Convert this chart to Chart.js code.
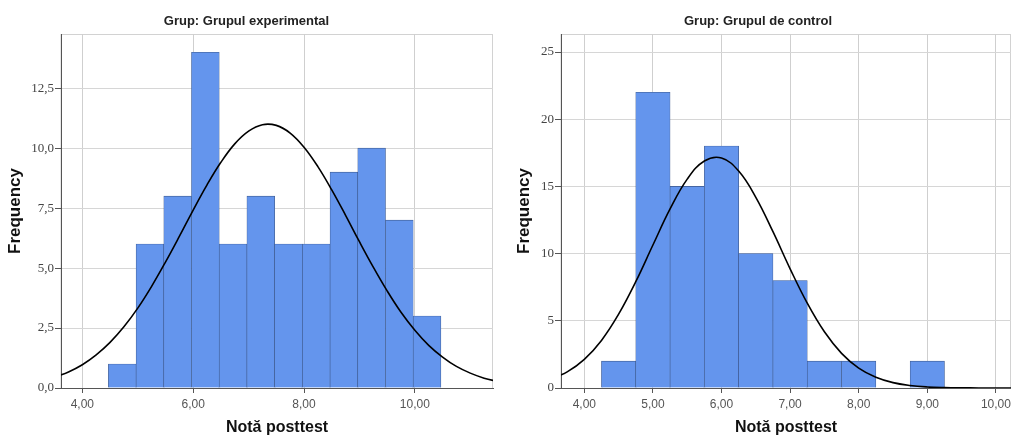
<!DOCTYPE html>
<html>
<head>
<meta charset="utf-8">
<script src="https://cdn.jsdelivr.net/npm/chart.js@4.4.0/dist/chart.umd.min.js"></script>
<style>
body { margin: 0; background: #fff; }
#wrap { position: relative; width: 1011px; height: 436px; }
canvas { position: absolute; top: 0; }
#left { left: 0; }
#right { left: 505px; }
</style>
</head>
<body>
<div id="wrap">
    <canvas id="left" width="505" height="436"></canvas>
    <canvas id="right" width="506" height="436"></canvas>
</div>
<script>
// histogram bins (centres) and counts
const expBins = [4.72, 5.22, 5.72, 6.22, 6.72, 7.22, 7.72, 8.22, 8.72, 9.22, 9.72, 10.22];
const expCounts = [1, 6, 8, 14, 6, 8, 6, 6, 9, 10, 7, 3];
const ctrlBins = [4.5, 5.0, 5.5, 6.0, 6.5, 7.0, 7.5, 8.0, 8.5, 9.0];
const ctrlCounts = [2, 22, 15, 18, 10, 8, 2, 2, 0, 2];

// normal curve heights, read every 0.25 along the x axis
const curveX = [3.5, 3.75, 4.0, 4.25, 4.5, 4.75, 5.0, 5.25, 5.5, 5.75, 6.0, 6.25, 6.5, 6.75, 7.0, 7.25,
    7.5, 7.75, 8.0, 8.25, 8.5, 8.75, 9.0, 9.25, 9.5, 9.75, 10.0, 10.25, 10.5, 10.75, 11.0, 11.25, 11.5];
const expCurve = [0.45, 0.67, 0.97, 1.38, 1.90, 2.55, 3.33, 4.24, 5.25, 6.32, 7.42, 8.47, 9.41, 10.18, 10.71, 10.98,
    10.95, 10.63, 10.04, 9.23, 8.26, 7.20, 6.10, 5.04, 4.05, 3.16, 2.41, 1.78, 1.29, 0.90, 0.62, 0.41, 0.27];
const ctrlCurve = [0.63, 1.20, 2.13, 3.54, 5.49, 7.91, 10.64, 13.32, 15.54, 16.89, 17.11, 16.14, 14.19, 11.63, 8.87, 6.31,
    4.18, 2.58, 1.48, 0.80, 0.40, 0.19, 0.08, 0.03, 0.01, 0.004, 0.001, 0, 0, 0, 0, 0, 0];

// tick labels
const expXTicks = [4, 6, 8, 10];
const expYTicks = [0, 2.5, 5, 7.5, 10, 12.5];
const ctrlXTicks = [4, 5, 6, 7, 8, 9, 10];
const ctrlYTicks = [0, 5, 10, 15, 20, 25];

// light frame round the plot area
const frame = {
    id: 'frame',
    beforeDraw(chart) {
        const { ctx, chartArea: a } = chart;
        ctx.save();
        ctx.strokeStyle = '#d2d2d2';
        ctx.lineWidth = 1;
        ctx.strokeRect(a.left, a.top + 0.5, a.right - a.left - 0.5, a.bottom - a.top);
        ctx.restore();
    }
};

function histChart(id, opts) {
    return new Chart(document.getElementById(id), {
        type: 'bar',
        data: {
            datasets: [{
                type: 'line',
                data: curveX.map((x, i) => ({ x: x, y: opts.curve[i] })),
                borderColor: '#000',
                borderWidth: 1.6,
                pointRadius: 0,
                tension: 0.4,
                order: 0
            }, {
                data: opts.bins.map((x, i) => ({ x: x, y: opts.counts[i] })),
                backgroundColor: '#6495ed',
                borderColor: '#3b5688',
                borderWidth: 0.6,
                borderSkipped: 'bottom',
                barPercentage: 1,
                categoryPercentage: 1,
                order: 1
            }]
        },
        options: {
            responsive: false,
            animation: false,
            layout: { padding: { left: 0, right: opts.padRight, top: 0, bottom: 0 } },
            plugins: {
                legend: { display: false },
                tooltip: { enabled: false },
                title: {
                    display: true,
                    text: opts.title,
                    color: '#222',
                    font: { family: 'Liberation Sans', size: 13, weight: 'bold' },
                    padding: { top: 13.5, bottom: 4.9 }
                }
            },
            scales: {
                x: {
                    type: 'linear',
                    offset: false,
                    min: opts.xMin,
                    max: opts.xMax,
                    afterBuildTicks: s => { s.ticks = opts.xTicks.map(v => ({ value: v })); },
                    afterFit: s => { s.height = 48; s.paddingLeft = 0; s.paddingRight = 0; },
                    grid: { offset: false, color: '#cfcfcf', tickColor: '#555', tickLength: 5 },
                    border: { color: '#555', width: 1 },
                    ticks: {
                        maxRotation: 0,
                        padding: 4,
                        color: '#555',
                        font: { family: 'Liberation Sans', size: 12 },
                        callback: v => v.toFixed(2).replace('.', ',')
                    },
                    title: {
                        display: true,
                        text: 'Notă posttest',
                        color: '#111',
                        font: { family: 'Liberation Sans', size: 16, weight: 'bold' },
                        padding: { top: 0, bottom: -1 }
                    }
                },
                y: {
                    min: 0,
                    max: opts.yMax,
                    afterBuildTicks: s => { s.ticks = opts.yTicks.map(v => ({ value: v })); },
                    afterFit: s => { s.width = opts.axisWidth; s.paddingTop = 0; s.paddingBottom = 0; },
                    grid: { color: '#d6d6d6', tickColor: '#555', tickLength: 6 },
                    border: { color: '#555', width: 1 },
                    ticks: {
                        padding: 1,
                        color: '#444',
                        font: { family: 'Liberation Serif', size: 13 },
                        callback: v => v.toFixed(opts.yDec).replace('.', ',')
                    },
                    title: {
                        display: true,
                        text: 'Frequency',
                        color: '#111',
                        font: { family: 'Liberation Sans', size: 17, weight: 'bold' },
                        padding: { top: opts.yTitlePad, bottom: 0 }
                    }
                }
            }
        },
        plugins: [frame]
    });
}

histChart('left', {
    title: 'Grup: Grupul experimental',
    bins: expBins, counts: expCounts, curve: expCurve,
    xTicks: expXTicks, yTicks: expYTicks,
    xMin: 3.615, xMax: 11.41, yMax: 14.76, yDec: 1,
    axisWidth: 61, padRight: 12, yTitlePad: 5
});

histChart('right', {
    title: 'Grup: Grupul de control',
    bins: ctrlBins, counts: ctrlCounts, curve: ctrlCurve,
    xTicks: ctrlXTicks, yTicks: ctrlYTicks,
    xMin: 3.66, xMax: 10.22, yMax: 26.34, yDec: 0,
    axisWidth: 56, padRight: 0, yTitlePad: 9
});
</script>
</body>
</html>
